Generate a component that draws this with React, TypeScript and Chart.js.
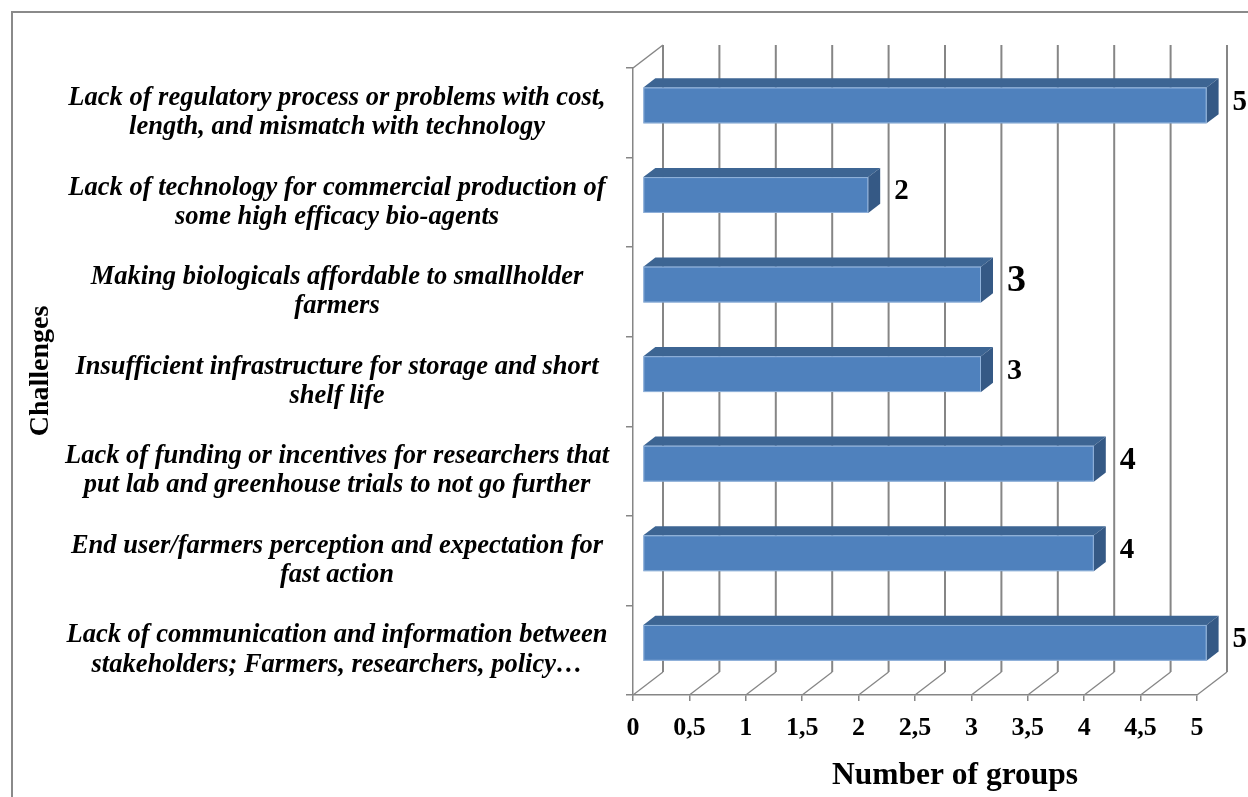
import React, { useEffect, useRef } from 'react';
import { Chart, registerables } from 'chart.js';

Chart.register(...registerables);

// ---------- data ----------
const categories: string[][] = [
  ['Lack of regulatory process or problems with cost,', 'length, and mismatch with technology'],
  ['Lack of technology for commercial production of', 'some high efficacy bio-agents'],
  ['Making biologicals affordable to smallholder', 'farmers'],
  ['Insufficient infrastructure for storage and short', 'shelf life'],
  ['Lack of funding or incentives for researchers that', 'put lab and greenhouse trials to not go further'],
  ['End user/farmers perception and expectation for', 'fast action'],
  ['Lack of communication and information between', 'stakeholders; Farmers, researchers, policy\u2026'],
];
const groupCounts: number[] = [5, 2, 3, 3, 4, 4, 5];
const xTickLabels: string[] = ['0', '0,5', '1', '1,5', '2', '2,5', '3', '3,5', '4', '4,5', '5'];
const xAxisTitle = 'Number of groups';
const yAxisTitle = 'Challenges';

// ---------- style ----------
const valueLabelSizes = [29, 29, 38, 30, 32, 29, 29];
const SERIF = '"Liberation Serif", "Times New Roman", serif';
const GRID = '#868686';
const DX = 30;
const DY = -23;
const BAR_FRONT = 0.32;
const BAR_BACK = 0.72;
const FRONT_COLOR = '#4f81bd';
const TOP_COLOR = '#3d6593';
const SIDE_COLOR = '#355985';

const excel3d = {
  id: 'excel3d',
  beforeDraw(chart: any) {
    const ctx = chart.ctx;
    ctx.save();
    ctx.strokeStyle = '#8a8a8a';
    ctx.lineWidth = 2;
    ctx.beginPath();
    ctx.moveTo(12, chart.height);
    ctx.lineTo(12, 12);
    ctx.lineTo(chart.width, 12);
    ctx.stroke();
    ctx.restore();
  },
  beforeDatasetsDraw(chart: any) {
    const ctx = chart.ctx;
    const { top, bottom, left } = chart.chartArea;
    const xs = chart.scales.x;
    const line = (a: number, b: number, c: number, d: number) => {
      ctx.beginPath();
      ctx.moveTo(a, b);
      ctx.lineTo(c, d);
      ctx.stroke();
    };
    ctx.save();
    ctx.strokeStyle = GRID;
    xs.ticks.forEach((t: any) => {
      const px = xs.getPixelForValue(t.value);
      ctx.lineWidth = 2;
      line(px + DX, top + DY, px + DX, bottom + DY);
      ctx.lineWidth = 1.3;
      line(px, bottom, px + DX, bottom + DY);
    });
    ctx.lineWidth = 1.5;
    line(left, top, left + DX, top + DY);
    ctx.restore();
  },
  afterDatasetsDraw(chart: any) {
    const ctx = chart.ctx;
    const meta = chart.getDatasetMeta(0);
    const dx = (BAR_BACK - BAR_FRONT) * DX;
    const dy = (BAR_BACK - BAR_FRONT) * DY;
    ctx.save();
    meta.data.forEach((el: any, i: number) => {
      const p = el.getProps(['x', 'y', 'base', 'height'], true);
      const x0 = p.base + BAR_FRONT * DX;
      const x1 = p.x + BAR_FRONT * DX;
      const yc = p.y + BAR_FRONT * DY;
      const y0 = yc - p.height / 2;
      const y1 = yc + p.height / 2;
      // top face
      ctx.fillStyle = TOP_COLOR;
      ctx.beginPath();
      ctx.moveTo(x0, y0);
      ctx.lineTo(x0 + dx, y0 + dy);
      ctx.lineTo(x1 + dx, y0 + dy);
      ctx.lineTo(x1, y0);
      ctx.closePath();
      ctx.fill();
      // side face
      ctx.fillStyle = SIDE_COLOR;
      ctx.beginPath();
      ctx.moveTo(x1, y0);
      ctx.lineTo(x1 + dx, y0 + dy);
      ctx.lineTo(x1 + dx, y1 + dy);
      ctx.lineTo(x1, y1);
      ctx.closePath();
      ctx.fill();
      // front face
      ctx.fillStyle = FRONT_COLOR;
      ctx.fillRect(x0, y0, x1 - x0, y1 - y0);
      ctx.strokeStyle = 'rgba(160,190,225,0.8)';
      ctx.lineWidth = 1;
      ctx.strokeRect(x0 + 0.5, y0 + 0.5, x1 - x0 - 1, y1 - y0 - 1);
      // value label
      ctx.fillStyle = '#000';
      ctx.font = `bold ${valueLabelSizes[i]}px ${SERIF}`;
      ctx.textAlign = 'left';
      ctx.textBaseline = 'middle';
      ctx.fillText(String(groupCounts[i]), x1 + dx + 14, yc - 3);
    });
    ctx.restore();
  },
  afterDraw(chart: any) {
    const ctx = chart.ctx;
    ctx.save();
    ctx.fillStyle = '#000';
    ctx.font = `bold 31.5px ${SERIF}`;
    ctx.textAlign = 'center';
    ctx.textBaseline = 'alphabetic';
    ctx.fillText(xAxisTitle, 955, 784);
    ctx.translate(48, 371);
    ctx.rotate(-Math.PI / 2);
    ctx.font = `bold 28px ${SERIF}`;
    ctx.fillText(yAxisTitle, 0, 0);
    ctx.restore();
  },
};

export default function App() {
  const ref = useRef<HTMLCanvasElement | null>(null);
  useEffect(() => {
    if (!ref.current) return;
    const chart = new Chart(ref.current, {
      type: 'bar',
      data: {
        labels: categories as any,
        datasets: [
          {
            data: groupCounts,
            backgroundColor: 'rgba(0,0,0,0)',
            borderWidth: 0,
            barPercentage: 0.4,
            categoryPercentage: 1,
          },
        ],
      },
      options: {
        indexAxis: 'y',
        responsive: false,
        maintainAspectRatio: false,
        animation: false,
        layout: { padding: { top: 68, right: 51, left: 0, bottom: 0 } },
        plugins: { legend: { display: false }, tooltip: { enabled: false }, title: { display: false } },
        scales: {
          x: {
            type: 'linear',
            min: 0,
            max: 5,
            ticks: {
              stepSize: 0.5,
              autoSkip: false,
              maxRotation: 0,
              color: '#000',
              padding: 12,
              font: { family: SERIF, size: 26, weight: 'bold' },
              callback: (_v: any, i: number) => xTickLabels[i] ?? '',
            },
            grid: { drawOnChartArea: false, drawTicks: true, tickLength: 6, color: GRID, lineWidth: 1.5 },
            border: { display: true, color: GRID, width: 1.5 },
            afterFit: (s: any) => {
              s.height = 102;
            },
          },
          y: {
            type: 'category',
            ticks: {
              color: '#000',
              crossAlign: 'center',
              padding: 17,
              autoSkip: false,
              font: { family: SERIF, size: 26.5, weight: 'bold', style: 'italic', lineHeight: 1.1 },
            },
            grid: { drawOnChartArea: false, drawTicks: true, tickLength: 7, color: GRID, lineWidth: 1.5, offset: true },
            border: { display: true, color: GRID, width: 1.5 },
            afterFit: (s: any) => {
              s.width = 633;
            },
          },
        },
      } as any,
      plugins: [excel3d],
    });
    return () => chart.destroy();
  }, []);
  return (
    <div style={{ position: 'absolute', left: 0, top: 0, width: 1248, height: 797, background: '#fff' }}>
      <canvas ref={ref} width={1248} height={797} style={{ display: 'block' }} />
    </div>
  );
}
